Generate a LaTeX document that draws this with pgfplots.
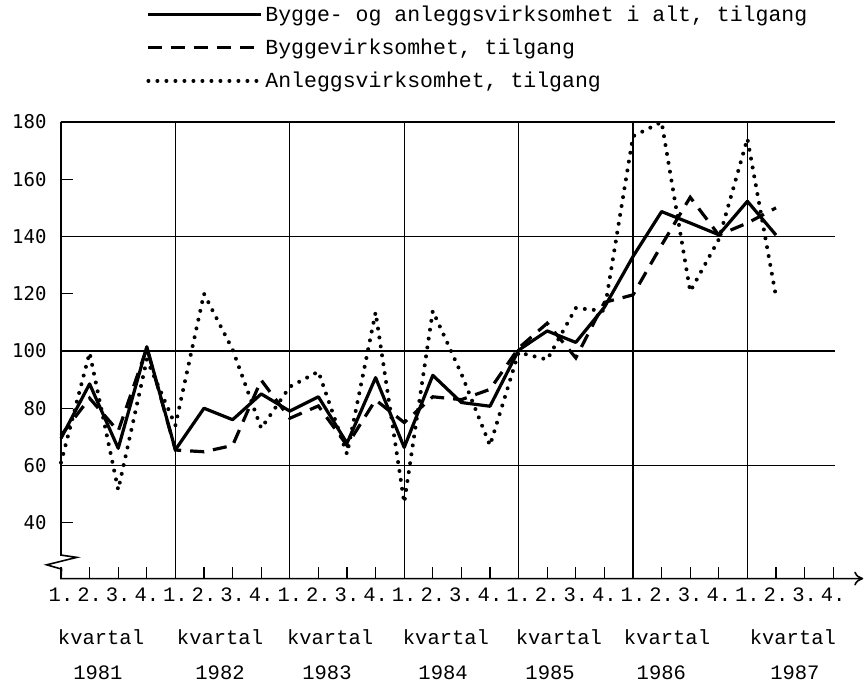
\documentclass[border=0pt]{standalone}
\usepackage{fontspec}
\setmainfont{Liberation Mono}
\newfontfamily\ysans{DejaVu Sans Mono}
\usepackage{pgfplots}
\pgfplotsset{compat=1.18}
\usetikzlibrary{arrows.meta}
\begin{document}
\begin{tikzpicture}
\begin{axis}[
  x=28.6pt, y=2.8625pt,
  xmin=0, xmax=28.05, ymin=20.5, ymax=180,
  clip=false,
  axis x line=bottom, axis y line=left,
  axis line style={draw=none},
  xtick={0,...,27},
  xticklabels={1.,2.,3.,4.,1.,2.,3.,4.,1.,2.,3.,4.,1.,2.,3.,4.,1.,2.,3.,4.,1.,2.,3.,4.,1.,2.,3.,4.},
  ytick={40,60,80,100,120,140,160,180},
  yticklabels={40,60,80,100,120,140,160,180},
  tick align=inside,
  major tick length=12pt,
  tick style={line width=1.3pt, black},
  xticklabel style={font=\fontsize{20.5}{24}\selectfont, yshift=-6pt},
  yticklabel style={font=\ysans\fontsize{19}{22}\selectfont, xshift=-11pt},
  legend style={at={(axis cs:2.98,221.2)}, anchor=north west, draw=none, fill=none,
    font=\fontsize{21.5}{24}\selectfont, row sep=12pt, inner sep=0pt, cells={anchor=west},
    /tikz/every even column/.append style={column sep=6pt}},
  legend image code/.code={\draw[#1] (0pt,0pt) -- (113pt,0pt);},
]
% grid
\draw[line width=1.2pt] (axis cs:0,180) -- (axis cs:27.05,180);
\draw[line width=1.2pt] (axis cs:0,140) -- (axis cs:27.05,140);
\draw[line width=1.2pt] (axis cs:0,100) -- (axis cs:27.05,100);
\draw[line width=1.2pt] (axis cs:0,60) -- (axis cs:27.05,60);
\draw[line width=1.2pt] (axis cs:4,20.5) -- (axis cs:4,180);
\draw[line width=1.2pt] (axis cs:8,20.5) -- (axis cs:8,180);
\draw[line width=1.2pt] (axis cs:12,20.5) -- (axis cs:12,180);
\draw[line width=1.2pt] (axis cs:16,20.5) -- (axis cs:16,180);
\draw[line width=1.2pt] (axis cs:20,20.5) -- (axis cs:20,180);
\draw[line width=1.2pt] (axis cs:24,20.5) -- (axis cs:24,180);
% axes with break
\draw[line width=1.6pt, line join=miter, -{To[length=9pt,width=14pt,line width=1.6pt]}]
  (axis cs:0,180) -- (axis cs:0,28.7) -- (axis cs:0.55,27.9) -- (axis cs:-0.5,25.3)
  -- (axis cs:0.02,23.8) -- (axis cs:0,20.5) -- (axis cs:28.05,20.5);

\addplot[black, line width=3.2pt, line join=round] coordinates {
(0,69.5) (1,88.5) (2,66) (3,101.5) (4,65.5) (5,80) (6,76) (7,85) (8,79) (9,84)
(10,67.8) (11,90.7) (12,66.3) (13,91.5) (14,82) (15,80.7) (16,100.3) (17,107)
(18,103) (19,115.3) (20,133) (21,148.7) (22,144.7) (23,140.6) (24,152.3) (25,140.5)};
\addlegendentry{Bygge- og anleggsvirksomhet i alt, tilgang}

\addplot[black, line width=3.2pt, dash pattern=on 14pt off 9pt] coordinates {
(0,70.5) (1,83.5) (2,72) (3,101) (4,65.4) (5,64.8) (6,67) (7,89.8) (8,76.5) (9,80.8)
(10,67) (11,82.9) (12,75) (13,84) (14,83) (15,86.6) (16,101) (17,109.7)
(18,97.6) (19,117) (20,119.6) (21,137) (22,153.7) (23,140.5) (24,144.7) (25,150)};
\addlegendentry{Byggevirksomhet, tilgang}

\addplot[black, line width=4pt, line cap=round, dash pattern=on 0pt off 9pt] coordinates {
(0,61) (1,99.4) (2,51.5) (3,97) (4,74) (5,120) (6,100.5) (7,73) (8,87.5) (9,92.8)
(10,64) (11,113.5) (12,47) (13,114) (14,92) (15,67) (16,99.5) (17,97)
(18,115) (19,114) (20,175) (21,180) (22,120.8) (23,139) (24,174.2) (25,119)};
\addlegendentry{Anleggsvirksomhet, tilgang}

% period labels
\node[anchor=base, font=\fontsize{20.5}{24}\selectfont] at (axis cs:1.40,-2.7) {kvartal};
\node[anchor=base, font=\fontsize{20.5}{24}\selectfont] at (axis cs:5.56,-2.7) {kvartal};
\node[anchor=base, font=\fontsize{20.5}{24}\selectfont] at (axis cs:9.41,-2.7) {kvartal};
\node[anchor=base, font=\fontsize{20.5}{24}\selectfont] at (axis cs:13.46,-2.7) {kvartal};
\node[anchor=base, font=\fontsize{20.5}{24}\selectfont] at (axis cs:17.41,-2.7) {kvartal};
\node[anchor=base, font=\fontsize{20.5}{24}\selectfont] at (axis cs:21.19,-2.7) {kvartal};
\node[anchor=base, font=\fontsize{20.5}{24}\selectfont] at (axis cs:25.59,-2.7) {kvartal};
\node[anchor=base, font=\fontsize{20.5}{24}\selectfont] at (axis cs:1.29,-14.9) {1981};
\node[anchor=base, font=\fontsize{20.5}{24}\selectfont] at (axis cs:5.56,-14.9) {1982};
\node[anchor=base, font=\fontsize{20.5}{24}\selectfont] at (axis cs:9.30,-14.9) {1983};
\node[anchor=base, font=\fontsize{20.5}{24}\selectfont] at (axis cs:13.36,-14.9) {1984};
\node[anchor=base, font=\fontsize{20.5}{24}\selectfont] at (axis cs:17.10,-14.9) {1985};
\node[anchor=base, font=\fontsize{20.5}{24}\selectfont] at (axis cs:20.99,-14.9) {1986};
\node[anchor=base, font=\fontsize{20.5}{24}\selectfont] at (axis cs:25.66,-14.9) {1987};

\coordinate (bbA) at (axis cs:-2.133,222.62);
\coordinate (bbB) at (axis cs:28.077,-17.38);
\end{axis}
\pgfresetboundingbox
\useasboundingbox (bbA) rectangle (bbB);
\end{tikzpicture}
\end{document}
